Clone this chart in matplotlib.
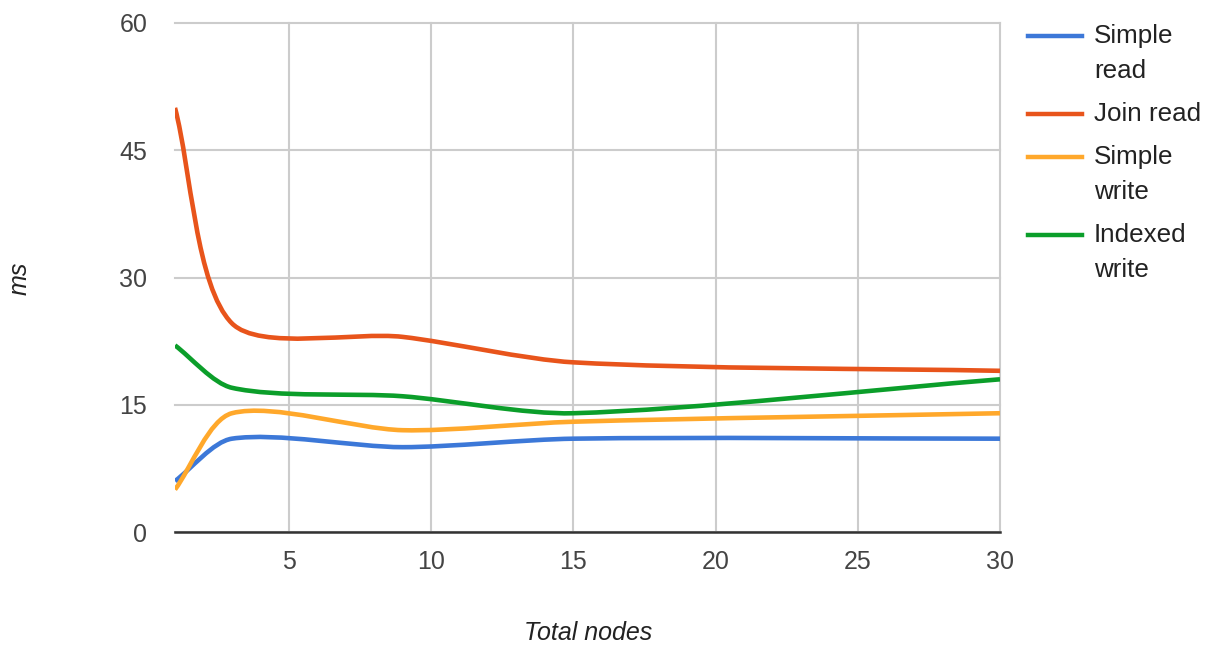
import textwrap

import numpy as np
import matplotlib
matplotlib.use("Agg")
import matplotlib.pyplot as plt
from matplotlib.path import Path
from matplotlib.patches import PathPatch
from matplotlib.lines import Line2D

plt.rcParams['font.family'] = ['Liberation Sans', 'DejaVu Sans']

nodes = [1, 3, 9, 15, 30]
simple_read = [6, 11, 10, 11, 11]
join_read = [50, 24.6, 23, 20, 19]
simple_write = [5, 14, 12, 13, 14]
indexed_write = [22, 17, 16, 14, 18]

series_names = ['Simple read', 'Join read', 'Simple write', 'Indexed write']
series_values = [simple_read, join_read, simple_write, indexed_write]
colors = ['#3c78d8', '#e8541b', '#ffa82b', '#0b9e2a']

x_ticks = [5, 10, 15, 20, 25, 30]
y_ticks = [0, 15, 30, 45, 60]

W, H = 1214, 649
fig = plt.figure(figsize=(W / 100, H / 100), dpi=100)
ax = fig.add_axes([175 / W, 117 / H, 825 / W, 509 / H])
ax.set_xlim(1, 30)
ax.set_ylim(0, 60)


def smooth_path(xs, ys, factor=0.28):
    # bezier curve through every point, tangent from the neighbours,
    # control distances split by the on-screen segment lengths
    pts = np.column_stack([xs, ys]).astype(float)
    pix = ax.transData.transform(pts)
    n = len(pts)
    before = pts.copy()
    after = pts.copy()
    for i in range(1, n - 1):
        d1 = np.hypot(*(pix[i] - pix[i - 1]))
        d2 = np.hypot(*(pix[i + 1] - pix[i]))
        tangent = pts[i + 1] - pts[i - 1]
        before[i] = pts[i] - tangent * factor * d1 / (d1 + d2)
        after[i] = pts[i] + tangent * factor * d2 / (d1 + d2)
    # end points just head along their chord
    after[0] = pts[0] + (pts[1] - pts[0]) * factor
    before[-1] = pts[-1] - (pts[-1] - pts[-2]) * factor
    verts = [pts[0]]
    codes = [Path.MOVETO]
    for i in range(n - 1):
        verts += [after[i], before[i + 1], pts[i + 1]]
        codes += [Path.CURVE4] * 3
    return Path(verts, codes)


for vals, c in zip(series_values, colors):
    patch = PathPatch(smooth_path(nodes, vals), facecolor='none', edgecolor=c,
                      lw=3.3, joinstyle='round', capstyle='butt', zorder=3)
    ax.add_patch(patch)

ax.set_xticks(x_ticks)
ax.set_yticks(y_ticks)
ax.grid(True, color='#cccccc', lw=1.5)
for gl in ax.get_xgridlines() + ax.get_ygridlines():
    gl.set_clip_on(False)
ax.set_axisbelow(True)
for side in ['left', 'right', 'top']:
    ax.spines[side].set_visible(False)
ax.spines['bottom'].set_color('#333333')
ax.spines['bottom'].set_linewidth(1.8)
ax.spines['bottom'].set_zorder(2.5)
ax.tick_params(axis='y', length=0, pad=20, labelsize=18, labelcolor='#444444')
ax.tick_params(axis='x', length=0, pad=13, labelsize=18, labelcolor='#444444')

fig.text(20 / W, 1 - 278 / H, 'ms', rotation=90, style='italic', fontsize=18,
         color='#222222', ha='center', va='center')
fig.text(588 / W, 1 - 633 / H, 'Total nodes', style='italic', fontsize=18,
         color='#222222', ha='center', va='center')

# legend on the right, long names wrapped onto two lines
y = 36
for name, c in zip(series_names, colors):
    lines = textwrap.wrap(name, 9)
    fig.add_artist(Line2D([1028 / W, 1082 / W], [1 - y / H, 1 - y / H],
                          color=c, lw=3.2, transform=fig.transFigure))
    for k, line in enumerate(lines):
        fig.text(1094 / W, 1 - (y + k * 35) / H, line, fontsize=18.7,
                 color='#222222', ha='left', va='center')
    y += len(lines) * 35 + 8

fig.savefig('out.png', dpi=100)
